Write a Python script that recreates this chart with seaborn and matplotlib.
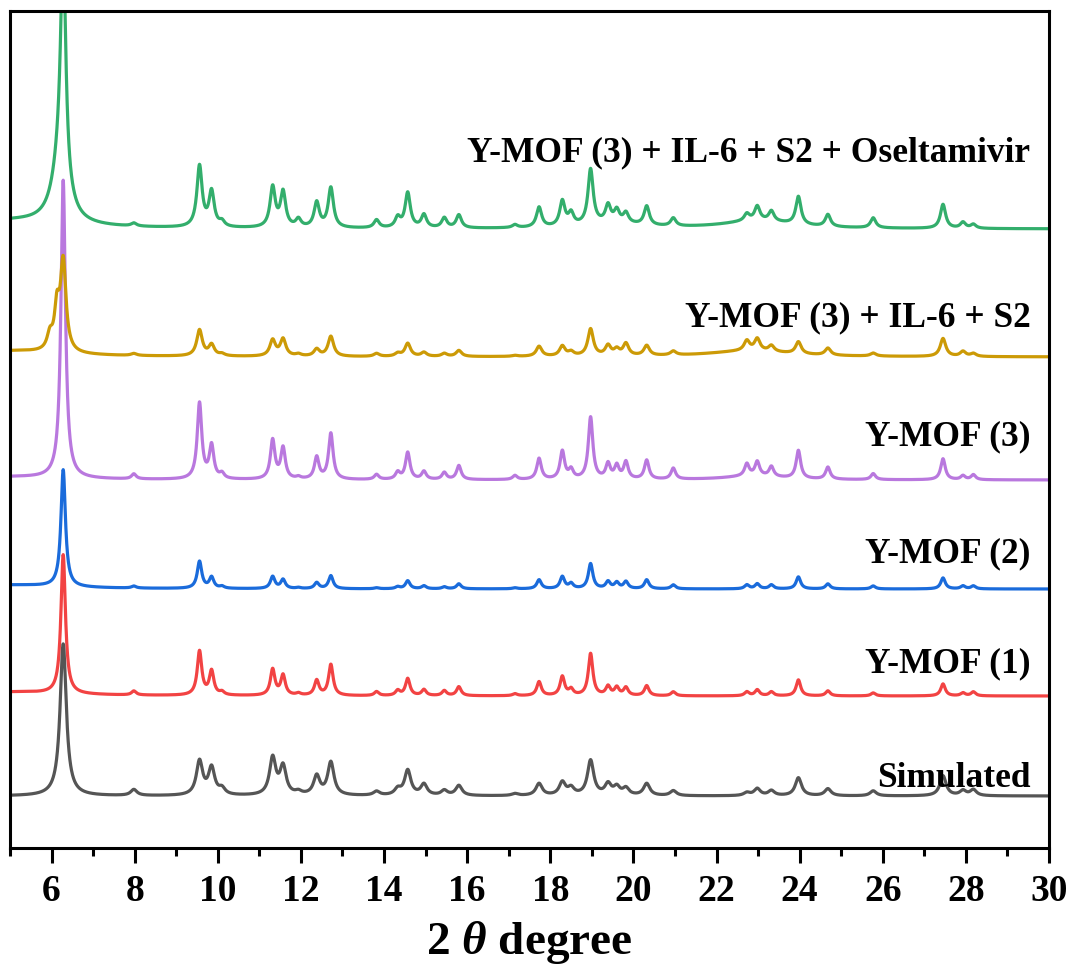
import numpy as np
import pandas as pd
import matplotlib
matplotlib.use("Agg")
import matplotlib.pyplot as plt
from matplotlib.ticker import MultipleLocator
import seaborn as sns

# ---- peak table (2-theta positions, degrees) ----
peak_pos = [6.28, 7.98, 9.56, 9.85, 10.10, 11.32, 11.57, 11.94, 12.38, 12.72,
            13.82, 14.33, 14.57, 14.96, 15.45, 15.80, 17.15, 17.73, 18.29, 18.50,
            18.97, 19.39, 19.60, 19.82, 20.32, 20.96, 22.73, 22.98, 23.32, 23.97,
            24.68, 25.77, 27.45, 27.93, 28.18]

# ---- peak intensities for each pattern (a.u.) ----
simulated = [152, 6, 34, 27, 6, 37, 28, 3, 19, 33,
             4, 6, 25, 11, 5, 10, 2, 12, 13, 7,
             35, 11, 8, 7, 12, 5, 3, 7, 5, 18,
             7, 5, 20, 5, 6]
ymof1 = [139, 4, 44, 24, 3, 26, 20, 2, 15, 31,
         4, 5, 17, 6, 5, 9, 2, 14, 19, 6,
         42, 9, 8, 8, 10, 4, 4, 6, 4, 16,
         5, 3, 12, 3, 4]
ymof2 = [117, 2, 27, 11, 2, 12, 9, 1, 6, 13,
         1, 2, 8, 3, 2, 5, 1, 9, 12, 5,
         25, 7, 6, 7, 9, 4, 4, 5, 4, 12,
         5, 3, 11, 3, 3]
ymof3 = [298, 5, 76, 33, 5, 39, 31, 2, 22, 46,
         5, 7, 27, 8, 7, 14, 4, 21, 28, 9,
         62, 15, 13, 17, 19, 11, 12, 14, 10, 28,
         12, 6, 21, 4, 5]
ymof3_il6_s2 = [90, 2, 26, 11, 2, 16, 17, 2, 7, 20,
                3, 3, 13, 4, 3, 6, 1, 10, 10, 4,
                27, 10, 6, 12, 10, 4, 10, 12, 6, 12,
                7, 3, 18, 5, 3]
ymof3_il6_s2_osel = [230, 3, 61, 35, 5, 40, 35, 8, 25, 40,
                     8, 10, 35, 13, 10, 13, 3, 20, 25, 12,
                     55, 17, 12, 10, 19, 8, 7, 14, 10, 28,
                     12, 10, 24, 6, 4]

# broad features / shoulders: (centre, intensity, half-width)
extra_simulated = []
extra_ymof1 = [(5.0, 4, 1.5)]
extra_ymof2 = [(5.0, 4, 1.5)]
extra_ymof3 = [(5.0, 3, 1.5), (22.9, 4, 0.8)]
extra_ymof3_il6_s2 = [(5.96, 15, 0.08), (6.13, 40, 0.07), (5.0, 6, 1.5), (22.8, 6, 1.2)]
extra_ymof3_il6_s2_osel = [(6.20, 55, 0.22), (5.0, 8, 1.5), (23.0, 8, 1.0), (19.5, 5, 0.8)]

labels = ["Y-MOF (3) + IL-6 + S2 + Oseltamivir", "Y-MOF (3) + IL-6 + S2",
          "Y-MOF (3)", "Y-MOF (2)", "Y-MOF (1)", "Simulated"]
intensities = [ymof3_il6_s2_osel, ymof3_il6_s2, ymof3, ymof2, ymof1, simulated]
extras = [extra_ymof3_il6_s2_osel, extra_ymof3_il6_s2, extra_ymof3,
          extra_ymof2, extra_ymof1, extra_simulated]

# ---- styling: vertical stacking offsets, peak widths, colours ----
offsets = [619, 491, 368, 259, 152, 52]
hwhm = [0.075, 0.08, 0.065, 0.065, 0.065, 0.09]
colors = ["#33AE6C", "#CC9A06", "#B978DE", "#1A6BDB", "#F24343", "#555555"]
label_y = [695, 530, 411, 294, 184, 70]
draw_order = [0, 2, 1, 3, 4, 5]

two_theta = np.arange(5.0, 30.0001, 0.005)


def lorentz(x, c, h, w):
    return h / (1.0 + ((x - c) / w) ** 2)


frames = []
for i in draw_order:
    y = np.full_like(two_theta, float(offsets[i]))
    for c, h in zip(peak_pos, intensities[i]):
        y += lorentz(two_theta, c, h, hwhm[i])
    for c, h, w in extras[i]:
        y += lorentz(two_theta, c, h, w)
    frames.append(pd.DataFrame({"two_theta": two_theta, "intensity": y,
                                "sample": labels[i]}))
data = pd.concat(frames, ignore_index=True)

sns.set_theme(style="ticks")
plt.rcParams["font.family"] = ["Liberation Serif", "DejaVu Serif"]
plt.rcParams["font.weight"] = "bold"
plt.rcParams["text.color"] = "black"
plt.rcParams["axes.labelcolor"] = "black"
plt.rcParams["xtick.color"] = "black"
plt.rcParams["mathtext.fontset"] = "custom"
plt.rcParams["mathtext.it"] = "Liberation Serif:italic:bold"
plt.rcParams["mathtext.rm"] = "Liberation Serif:bold"

fig = plt.figure(figsize=(10.73, 9.72), dpi=100)
ax = fig.add_axes([10 / 1073, 1 - 848 / 972, 1039 / 1073, 837 / 972])

palette = {labels[i]: colors[i] for i in range(len(labels))}
sns.lineplot(data=data, x="two_theta", y="intensity", hue="sample",
             hue_order=[labels[i] for i in draw_order], palette=palette,
             estimator=None, sort=False, linewidth=2.3, legend=False, ax=ax)

for i, lab in enumerate(labels):
    ax.text(29.55, label_y[i], lab, ha="right", va="center",
            fontsize=25.5, fontweight="bold", color="black")

ax.set_xlim(5, 30)
ax.set_ylim(0, 837)
ax.xaxis.set_major_locator(MultipleLocator(2))
ax.xaxis.set_minor_locator(MultipleLocator(1))
ax.set_yticks([])
ax.set_ylabel("")
ax.set_xlabel(r"2 $\theta$ degree", fontsize=34, fontweight="bold",
              labelpad=7, color="black")
ax.tick_params(axis="x", which="major", direction="out", length=11, width=2.2,
               labelsize=27, pad=8, colors="black")
ax.tick_params(axis="x", which="minor", direction="out", length=6, width=2.2,
               colors="black")
for lab in ax.get_xticklabels():
    lab.set_fontweight("bold")
for s in ax.spines.values():
    s.set_visible(True)
    s.set_linewidth(2.2)
    s.set_color("black")

fig.savefig("out.png", dpi=100)
